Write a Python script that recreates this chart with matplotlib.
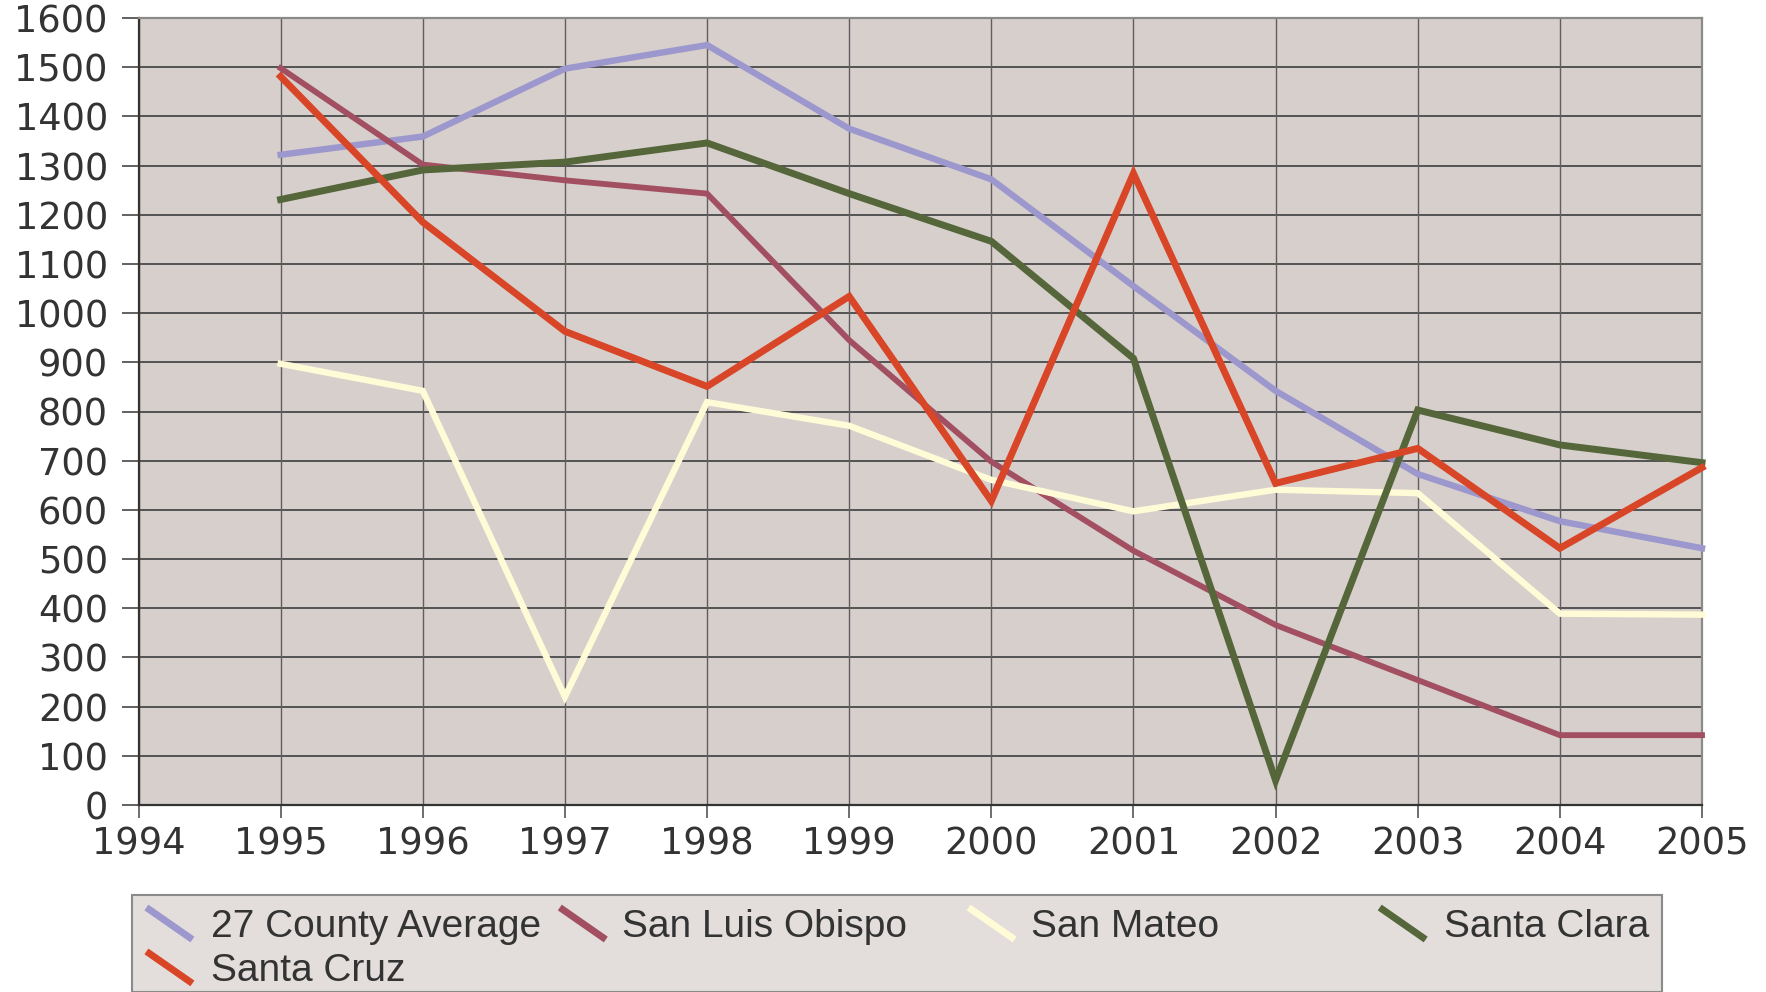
import matplotlib
matplotlib.use("Agg")
import matplotlib.pyplot as plt
from matplotlib.lines import Line2D
from matplotlib.patches import Rectangle

years = [1995, 1996, 1997, 1998, 1999, 2000, 2001, 2002, 2003, 2004, 2005]
county_avg = [1322, 1359, 1497, 1545, 1375, 1272, 1055, 842, 673, 577, 522]
san_luis_obispo = [1498, 1302, 1270, 1243, 945, 698, 517, 366, 254, 142, 142]
san_mateo = [897, 842, 220, 819, 771, 661, 597, 641, 634, 389, 387]
santa_clara = [1231, 1291, 1307, 1346, 1243, 1146, 908, 50, 803, 732, 696]
santa_cruz = [1481, 1185, 963, 851, 1034, 618, 1284, 654, 725, 522, 686]

series_names = ["27 County Average", "San Luis Obispo", "San Mateo", "Santa Clara", "Santa Cruz"]
series_values = [county_avg, san_luis_obispo, san_mateo, santa_clara, santa_cruz]
colors = ["#9C97CC", "#A24F62", "#FFFBD6", "#55673A", "#D84527"]
widths = [4.6, 4.2, 4.6, 5.0, 5.0]

x_ticks = list(range(1994, 2006))
y_ticks = list(range(0, 1601, 100))

W, H = 1766, 992
fig = plt.figure(figsize=(W / 100, H / 100), dpi=100)
fig.patch.set_facecolor("white")

ax = fig.add_axes([138.5 / W, 1 - 805 / H, (1702 - 138.5) / W, (805 - 18) / H])
ax.set_facecolor("#D7CFCC")
ax.set_xlim(1994, 2005)
ax.set_ylim(0, 1600)
ax.set_xticks(x_ticks)
ax.set_yticks(y_ticks)

for y in y_ticks:
    ax.axhline(y, color="#4A4A4A", lw=1.3, zorder=1)
for x in x_ticks:
    ax.axvline(x, color="#5E5E5E", lw=1.0, zorder=1)

for name, vals, c, lw in zip(series_names, series_values, colors, widths):
    ax.plot(years, vals, color=c, lw=lw, solid_joinstyle="miter", zorder=3, clip_on=False)

for side in ["left", "bottom"]:
    ax.spines[side].set_color("#333333")
    ax.spines[side].set_linewidth(1.6)
for side in ["top", "right"]:
    ax.spines[side].set_color("#8A8A8A")
    ax.spines[side].set_linewidth(1.6)

ax.tick_params(axis="y", length=12, width=1.3, color="#555555", pad=10,
               labelsize=26.5, labelcolor="#333333")
ax.tick_params(axis="x", length=9, width=1.2, color="#555555", pad=6,
               labelsize=26.5, labelcolor="#333333")
for lab in ax.get_xticklabels() + ax.get_yticklabels():
    lab.set_fontfamily("DejaVu Sans")

# Legend box drawn in figure pixel coordinates
box = Rectangle((132 / W, 0), (1662 - 132) / W, 1 - 895 / H,
                transform=fig.transFigure, facecolor="#E3DEDC",
                edgecolor="#8A8A8A", lw=1.5, zorder=0)
fig.patches.append(box)

handle_x = [146.4, 559.8, 968.6, 1379.7, 146.4]
text_x = [210.6, 621.7, 1030.6, 1443.9, 210.6]
row_y = [923.5, 923.5, 923.5, 923.5, 967.4]
for name, c, hx, tx, ry in zip(series_names, colors, handle_x, text_x, row_y):
    fig.add_artist(Line2D([hx / W, (hx + 46) / W], [1 - (ry - 16) / H, 1 - (ry + 16) / H],
                          transform=fig.transFigure, color=c, lw=5, solid_capstyle="butt"))
    fig.text(tx / W, 1 - (ry + 3.5) / H, name, fontsize=28, family="Liberation Sans",
             color="#333333", va="center", ha="left")

fig.savefig("out.png", dpi=100, facecolor="white")
